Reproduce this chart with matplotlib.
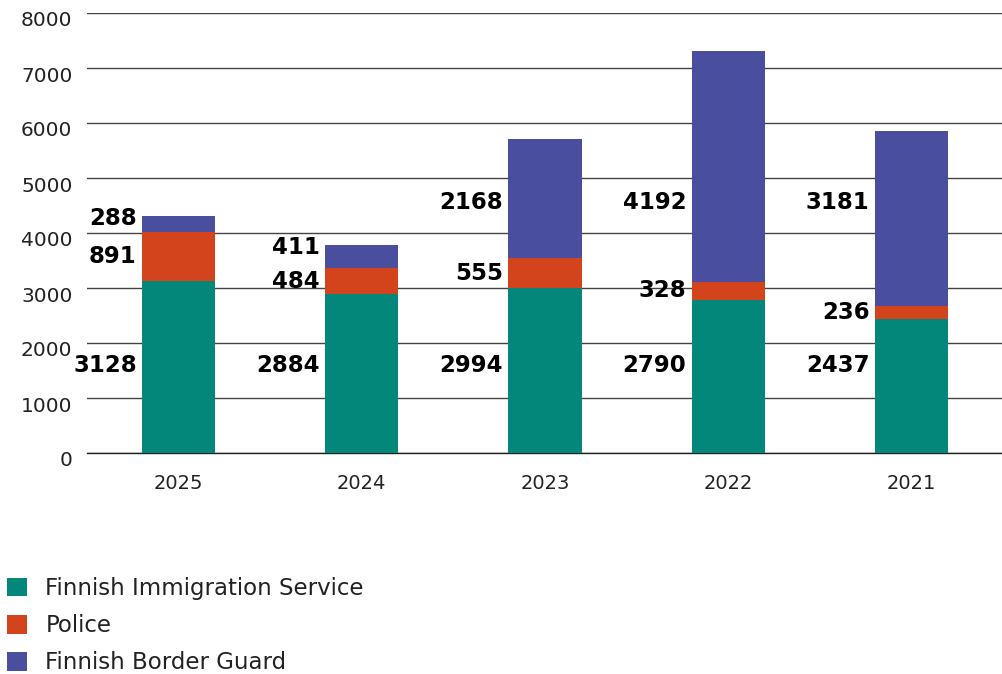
import matplotlib.pyplot as plt
from matplotlib.patches import Patch
from matplotlib.transforms import ScaledTranslation

# data
years = ["2025", "2024", "2023", "2022", "2021"]
immigration = [3128, 2884, 2994, 2790, 2437]
police = [891, 484, 555, 328, 236]
border = [288, 411, 2168, 4192, 3181]

series_names = ["Finnish Immigration Service", "Police", "Finnish Border Guard"]
colors = ["#03877A", "#D4441C", "#4A4E9E"]

plt.rcParams['font.family'] = ['DejaVu Sans']

fig = plt.figure(figsize=(10.03, 6.74), dpi=100)
ax = fig.add_axes([87/1003, 1 - 453/674, 1 - 87/1003, 440/674])

x = range(len(years))
width = 0.40
bottom = [0] * len(years)
mids = []
for vals, col in zip([immigration, police, border], colors):
    ax.bar(x, vals, width, bottom=bottom, color=col, zorder=3)
    mids.append([b + v / 2 for b, v in zip(bottom, vals)])
    bottom = [b + v for b, v in zip(bottom, vals)]

# value labels sit to the left of each bar
for s, vals in enumerate([immigration, police, border]):
    for i, v in enumerate(vals):
        y = mids[s][i]
        if s == 0:
            y = 1600            # the source puts these on one level
        elif s == 2:
            y = bottom[i] - 45 if v < 1000 else 4560
        ax.annotate(str(v), (i - width / 2, y), xytext=(-3.8, 0),
                    textcoords='offset points', ha='right', va='center',
                    fontsize=16.5, fontweight='bold', color='black', zorder=4)

ax.set_xlim(-0.5, len(years) - 0.5)
ax.set_ylim(0, 8000)
ax.set_xticks(list(x))
ax.set_xticklabels(years, fontsize=14, color='#222222')
ax.set_yticks(range(0, 8001, 1000))
ax.set_yticklabels([str(t) for t in range(0, 8001, 1000)], fontsize=14.5, color='#222222')
ax.tick_params(axis='both', length=0)
ax.tick_params(axis='y', pad=10.5)
ax.tick_params(axis='x', pad=15)
for lab in ax.get_yticklabels():
    lab.set_transform(lab.get_transform() + ScaledTranslation(0, -6/100, fig.dpi_scale_trans))

ax.yaxis.grid(True, color='#444444', linewidth=1.0, zorder=0)
ax.axhline(0, color='#222222', linewidth=1.0, zorder=1, clip_on=False)
ax.set_axisbelow(True)
for sp in ax.spines.values():
    sp.set_visible(False)

handles = [Patch(facecolor=c, edgecolor='none') for c in colors]
fig.legend(handles, series_names, loc='upper left', bbox_to_anchor=(7/1003, 1 - 577/674),
           frameon=False, fontsize=16.5, handlelength=0.87, handleheight=0.87,
           handletextpad=0.8, labelspacing=0.62, borderpad=0, borderaxespad=0,
           labelcolor='#222222')

fig.savefig("out.png", dpi=100)
